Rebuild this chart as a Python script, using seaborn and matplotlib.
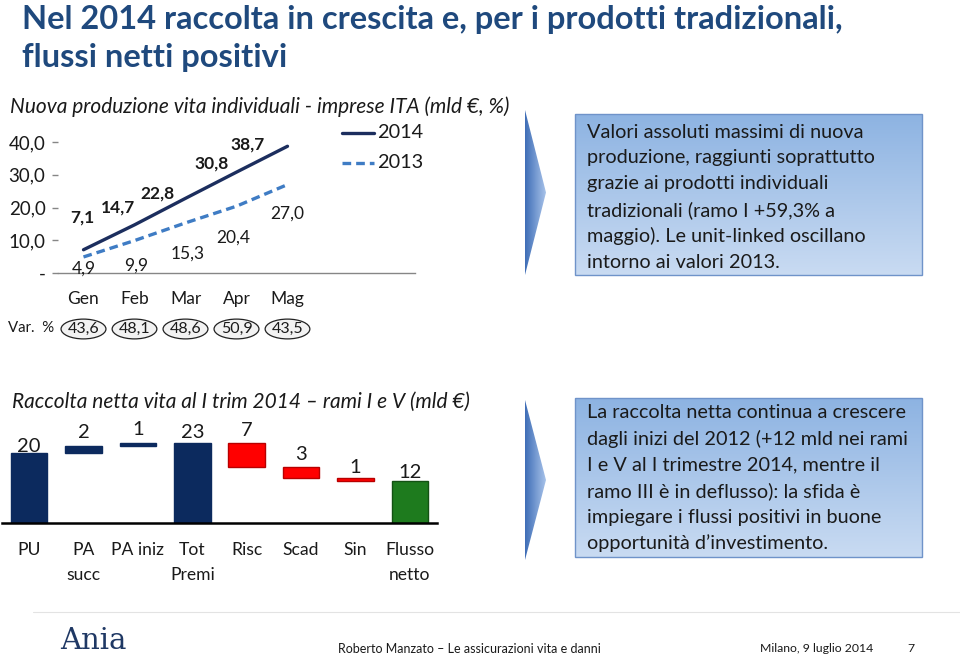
import numpy as np
import pandas as pd
import matplotlib
matplotlib.use("Agg")
import matplotlib.pyplot as plt
import matplotlib.transforms as mtransforms
from matplotlib.patches import Polygon, Rectangle
from matplotlib.lines import Line2D
import seaborn as sns

# ---------------- data ----------------
months = ["Gen", "Feb", "Mar", "Apr", "Mag"]
prod_2014 = [7.1, 14.7, 22.8, 30.8, 38.7]
prod_2013 = [4.9, 9.9, 15.3, 20.4, 27.0]
labels_2014 = ["7,1", "14,7", "22,8", "30,8", "38,7"]
labels_2013 = ["4,9", "9,9", "15,3", "20,4", "27,0"]
var_pct = ["43,6", "48,1", "48,6", "50,9", "43,5"]
y_ticks = [0, 10, 20, 30, 40]
y_tick_labels = ["-", "10,0", "20,0", "30,0", "40,0"]

wf_cats = ["PU", "PA\nsucc", "PA iniz", "Tot\nPremi", "Risc", "Scad", "Sin", "Flusso\nnetto"]
wf_values = [20, 2, 1, 23, -7, -3, -1, 12]
wf_kind = ["total", "delta", "delta", "total", "delta", "delta", "delta", "total"]

title_lines = ["Nel 2014 raccolta in crescita e, per i prodotti tradizionali,",
               "flussi netti positivi"]
chart1_title = "Nuova produzione vita individuali - imprese ITA (mld €, %)"
chart2_title = "Raccolta netta vita al I trim 2014 \u2013 rami I e V (mld €)"
box1_lines = ["Valori assoluti massimi di nuova",
              "produzione, raggiunti soprattutto",
              "grazie ai prodotti individuali",
              "tradizionali (ramo I +59,3% a",
              "maggio). Le unit-linked oscillano",
              "intorno ai valori 2013."]
box2_lines = ["La raccolta netta continua a crescere",
              "dagli inizi del 2012 (+12 mld nei rami",
              "I e V al I trimestre 2014, mentre il",
              "ramo III \u00e8 in deflusso): la sfida \u00e8",
              "impiegare i flussi positivi in buone",
              "opportunit\u00e0 d\u2019investimento."]
footer_center = "Roberto Manzato \u2013 Le assicurazioni vita e danni"
footer_right = "Milano, 9 luglio 2014"
page_no = "7"

# ---------------- style ----------------
sns.set_theme(style="white")
plt.rcParams["font.family"] = ["Lato", "DejaVu Sans"]

W, H = 960, 661
fig = plt.figure(figsize=(W / 100, H / 100), dpi=100)
fig.patch.set_facecolor("white")

def fx(px):
    return px / W

def fy(py):
    return 1 - py / H

C14 = "#1C2E5E"
C13 = "#3F7CC4"
NAVY = "#0C2A5E"
TXT = "#1a1a1a"

# ---------------- background overlay (boxes, arrows) ----------------
bg = fig.add_axes([0, 0, 1, 1])
bg.set_xlim(0, W)
bg.set_ylim(H, 0)
bg.axis("off")

def vgrad(c1, c2, n=256):
    a = np.array(matplotlib.colors.to_rgb(c1))
    b = np.array(matplotlib.colors.to_rgb(c2))
    t = np.linspace(0, 1, n)[:, None]
    return (a * (1 - t) + b * t)[:, None, :]

def hgrad(c1, c2, n=256):
    return np.transpose(vgrad(c1, c2, n), (1, 0, 2))

def draw_box(x0, y0, x1, y1, lines, ty0, step):
    im = bg.imshow(vgrad("#8DB3E2", "#C9DBF2"), extent=(x0, x1, y1, y0),
                   aspect="auto", origin="upper", zorder=1)
    rect = Rectangle((x0, y0), x1 - x0, y1 - y0, facecolor="none",
                     edgecolor="#6F93C9", lw=1.0, zorder=2)
    bg.add_patch(rect)
    im.set_clip_path(rect)
    for i, ln in enumerate(lines):
        bg.text(587, ty0 + i * step, ln, fontsize=14.3, color=TXT,
                va="center", ha="left", zorder=3)

def draw_arrow(xl, yt, yb, xt):
    ym = (yt + yb) / 2
    poly = Polygon([(xl, yt), (xt, ym), (xl, yb)], closed=True,
                   facecolor="none", edgecolor="none", zorder=2)
    bg.add_patch(poly)
    im = bg.imshow(hgrad("#3E6DB6", "#A8C3EA"), extent=(xl, xt, yb, yt),
                   aspect="auto", origin="upper", zorder=1)
    im.set_clip_path(poly)

draw_arrow(525, 110, 275, 546)
draw_box(575, 114, 922, 275, box1_lines, 132, 26)
draw_arrow(525, 400, 560, 546)
draw_box(575, 398, 922, 557, box2_lines, 413, 26)

# ---------------- main title ----------------
for i, ln in enumerate(title_lines):
    fig.text(fx(22), fy(20 + i * 37), ln, fontsize=23.5, fontweight="bold",
             color="#1F497D", va="center", ha="left")

# ---------------- chart 1: lines ----------------
fig.text(fx(10), fy(107), chart1_title, fontsize=15, style="italic",
         color=TXT, va="center", ha="left")

ax1 = fig.add_axes([fx(58), fy(273), fx(357), 131 / H])
df = pd.DataFrame({
    "pos": list(range(len(months))) * 2,
    "value": prod_2014 + prod_2013,
    "year": ["2014"] * len(months) + ["2013"] * len(months),
})
sns.lineplot(data=df, x="pos", y="value", hue="year", style="year",
             palette={"2014": C14, "2013": C13},
             dashes={"2014": "", "2013": (2.6, 1.5)},
             linewidth=2.4, legend=False, ax=ax1)
ax1.set_xlim(-0.5, 6.5)
ax1.set_ylim(0, 40)
ax1.set_xlabel("")
ax1.set_ylabel("")
ax1.set_xticks(range(len(months)), labels=months)
ax1.set_xticks(np.arange(-0.5, 7.0, 1.0), minor=True)
ax1.tick_params(axis="x", which="major", length=0, pad=13, labelsize=12.5, labelcolor=TXT)
ax1.tick_params(axis="x", which="minor", length=4, width=1, color="#868686", direction="out")
ax1.set_yticks(y_ticks, labels=y_tick_labels)
ax1.tick_params(axis="y", length=4, width=1, color="#868686", pad=5, labelsize=13.5,
                labelcolor=TXT, left=True)
for s in ["left", "top", "right"]:
    ax1.spines[s].set_visible(False)
ax1.spines["bottom"].set_color("#868686")
ax1.spines["bottom"].set_linewidth(1)
ax1.patch.set_alpha(0)

off14 = [(-1, 32), (-16, 17), (-28, 5), (-25, 9), (-40, 2)]
off13 = [(0, -12), (2, -25), (2, -31), (-3, -31), (0, -29)]
for i, (v, lab) in enumerate(zip(prod_2014, labels_2014)):
    ax1.annotate(lab, (i, v), xytext=off14[i], textcoords="offset pixels",
                 ha="center", va="center", fontsize=12.5, fontweight="bold",
                 color=TXT, annotation_clip=False)
for i, (v, lab) in enumerate(zip(prod_2013, labels_2013)):
    ax1.annotate(lab, (i, v), xytext=off13[i], textcoords="offset pixels",
                 ha="center", va="center", fontsize=12.5, color=TXT,
                 annotation_clip=False)

# legend
for (yy, col, ls, lab) in [(133, C14, "-", "2014"), (163, C13, (0, (2.6, 1.5)), "2013")]:
    fig.add_artist(Line2D([fx(342), fx(374)], [fy(yy), fy(yy)], color=col,
                          lw=2.4, linestyle=ls))
    fig.text(fx(377), fy(yy), lab, fontsize=14.3, color=TXT, va="center", ha="left")

# Var. % row
trans = mtransforms.blended_transform_factory(ax1.transData, fig.transFigure)
fig.text(fx(8), fy(328), "Var.  %", fontsize=10.8, color=TXT, va="center", ha="left")
for i, v in enumerate(var_pct):
    ax1.text(i, fy(329), v, transform=trans, fontsize=11.5, color=TXT,
             ha="center", va="center", clip_on=False,
             bbox=dict(boxstyle="ellipse,pad=0.0", facecolor="#F2F2F2",
                       edgecolor="#222222", lw=0.9))

# ---------------- chart 2: waterfall ----------------
fig.text(fx(12), fy(402), chart2_title, fontsize=15, style="italic",
         color=TXT, va="center", ha="left")

bottoms, heights, fills, edges = [], [], [], []
running = 0
for v, k in zip(wf_values, wf_kind):
    if k == "total":
        bottoms.append(0)
        heights.append(v)
        running = v
    else:
        bottoms.append(running if v > 0 else running + v)
        heights.append(abs(v))
        running += v
for i, (v, k) in enumerate(zip(wf_values, wf_kind)):
    if k == "total" and i == len(wf_values) - 1:
        fills.append("#1E7B1E"); edges.append("#145214")
    elif v >= 0:
        fills.append(NAVY); edges.append(NAVY)
    else:
        fills.append("#FF0000"); edges.append("#B80000")

ax2 = fig.add_axes([fx(2), fy(523), fx(435), 105 / H])
sns.barplot(x=wf_cats, y=heights, hue=wf_cats, palette=fills, legend=False,
            width=0.67, saturation=1, ax=ax2)
bars = sorted(ax2.patches, key=lambda p: p.get_x())
for p, b, ec in zip(bars, bottoms, edges):
    p.set_y(b)
    p.set_edgecolor(ec)
    p.set_linewidth(1)
ax2.set_xlim(-0.5, len(wf_cats) - 0.5)
ax2.set_ylim(0, 30)
ax2.set_xlabel("")
ax2.set_ylabel("")
ax2.set_yticks([])
ax2.tick_params(axis="x", length=0, pad=14, labelsize=12.6, labelcolor=TXT)
for lab in ax2.get_xticklabels():
    lab.set_linespacing(1.62)
for s in ["left", "top", "right"]:
    ax2.spines[s].set_visible(False)
ax2.spines["bottom"].set_color("black")
ax2.spines["bottom"].set_linewidth(1.8)
ax2.patch.set_alpha(0)

val_off = [6, 13, 13, 10, 12, 13, 10, 9]
for i, (b, h, v) in enumerate(zip(bottoms, heights, wf_values)):
    ax2.annotate(str(abs(v)), (i, b + h), xytext=(0, val_off[i]),
                 textcoords="offset pixels", ha="center", va="center",
                 fontsize=14.5, color=TXT, annotation_clip=False)

# ---------------- footer ----------------
fig.add_artist(Line2D([fx(33), fx(960)], [fy(612), fy(612)], color="#E3E3E3", lw=0.8))
fig.text(fx(60), fy(641), "Ania", fontsize=21, family=["DejaVu Serif"],
         color="#1F3864", va="center", ha="left")
fig.text(fx(338), fy(649), footer_center, fontsize=9, color=TXT, va="center", ha="left")
fig.text(fx(760), fy(649), footer_right, fontsize=8.8, color=TXT, va="center", ha="left")
fig.text(fx(907), fy(649), page_no, fontsize=8.8, color=TXT, va="center", ha="left")

fig.savefig("out.png", dpi=100, facecolor="white")
